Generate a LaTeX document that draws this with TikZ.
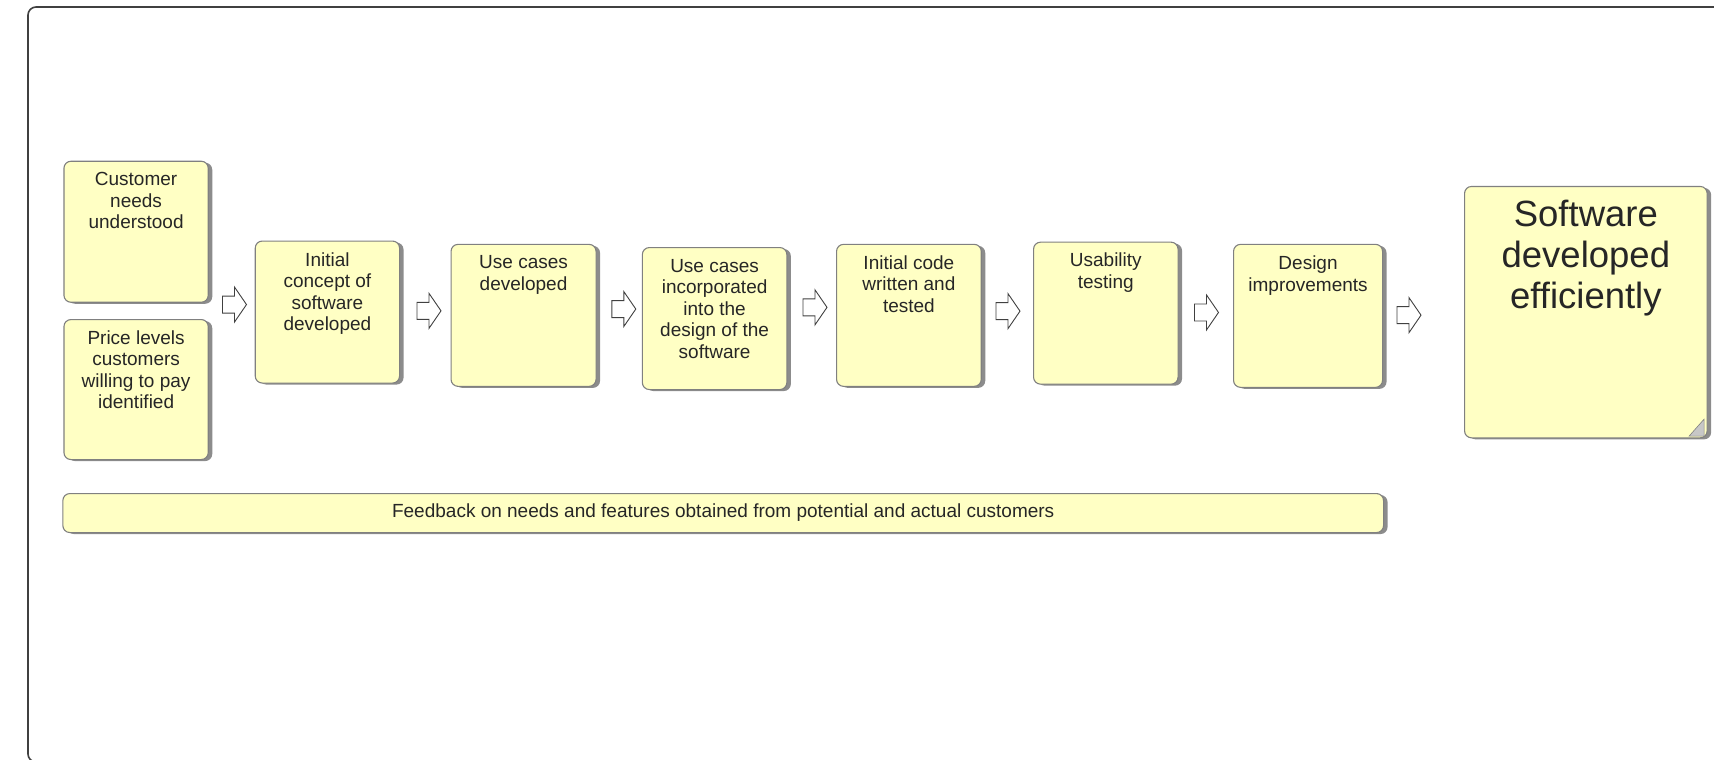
\documentclass[tikz,border=0pt]{standalone}
\usepackage{fontspec}
\setmainfont{Liberation Sans}
\usetikzlibrary{calc,shadows}
\definecolor{sticky}{HTML}{FFFFC4}
\definecolor{stickyline}{HTML}{808080}
\definecolor{txt}{HTML}{262626}
\definecolor{shade}{HTML}{8C8C8C}
\tikzset{
  sbox/.style={draw=stickyline, line width=1.1pt, fill=sticky, rounded corners=7pt,
    inner sep=0pt, anchor=north west,
    drop shadow={shadow xshift=4pt, shadow yshift=-1.5pt, opacity=1, fill=shade}},
  stext/.style={anchor=north, inner sep=0pt, align=center, text=txt,
    font=\fontsize{19}{21.5}\selectfont},
  bigtext/.style={anchor=north, inner sep=0pt, align=center, text=txt,
    font=\fontsize{36.5}{41}\selectfont},
  blockarrowstyle/.style={draw=black!75, fill=white, line width=0.9pt, line join=miter},
  blockarrow/.pic={\draw[blockarrowstyle] (-12,-8.5) -- (0,-8.5) -- (0,-17.5) -- (12,0)
     -- (0,17.5) -- (0,8.5) -- (-12,8.5) -- cycle;},
  foldstyle/.style={fill=black!22, draw=black!50, line width=0.6pt}
}
\begin{document}
\begin{tikzpicture}[x=1pt,y=-1pt]
\useasboundingbox (0,0) rectangle (1714,760);
\draw[line width=1.6pt, draw=black!75, rounded corners=8pt] (28,7) rectangle (1745,762);

% boxes
\node[sbox, minimum width=144.3pt, minimum height=141pt] (cust) at (63.4,160.7) {};
\node[sbox, minimum width=144.3pt, minimum height=140pt] (price) at (63.4,319) {};
\node[sbox, minimum width=144.3pt, minimum height=142pt] (concept) at (254.7,240.5) {};
\node[sbox, minimum width=145pt, minimum height=142pt] (usecases) at (450.5,243.8) {};
\node[sbox, minimum width=144.5pt, minimum height=142pt] (incorp) at (641.8,247) {};
\node[sbox, minimum width=144.7pt, minimum height=142pt] (code) at (836,243.8) {};
\node[sbox, minimum width=144.5pt, minimum height=142pt] (usab) at (1033,241.6) {};
\node[sbox, minimum width=149pt, minimum height=143pt] (design) at (1233,243.8) {};
\node[sbox, minimum width=242.6pt, minimum height=251.4pt] (final) at (1464,185.9) {};
\node[sbox, minimum width=1320.7pt, minimum height=39pt, text=txt,
      font=\fontsize{19}{21.5}\selectfont] (feedback) at (62.3,493)
  {Feedback on needs and features obtained from potential and actual customers};

% texts
\node[stext] (cust-t) at ($(cust.north)+(0,11.5)$) {Customer\\needs\\understood};
\node[stext] (price-t) at ($(price.north)+(0,11.5)$) {Price levels\\customers\\willing to pay\\identified};
\node[stext] (concept-t) at ($(concept.north)+(0,12)$) {Initial\\concept of\\software\\developed};
\node[stext] (usecases-t) at ($(usecases.north)+(0,11.5)$) {Use cases\\developed};
\node[stext] (incorp-t) at ($(incorp.north)+(0,12)$) {Use cases\\incorporated\\into the\\design of the\\software};
\node[stext] (code-t) at ($(code.north)+(0,11.5)$) {Initial code\\written and\\tested};
\node[stext] (usab-t) at ($(usab.north)+(0,11)$) {Usability\\testing};
\node[stext] (design-t) at ($(design.north)+(0,12)$) {Design\\improvements};
\node[bigtext] (final-t) at ($(final.north)+(0,14)$) {Software\\developed\\efficiently};

% page fold
\draw[foldstyle] ($(final.south east)+(-3.6,-19.3)$) -- ($(final.south east)+(-3.6,-2.3)$)
  -- ($(final.south east)+(-18.6,-2.3)$) -- cycle;

% block arrows
\pic at ($(concept.west)+(-20.2,-7.5)$) {blockarrow};
\pic at ($(usecases.west)+(-21.5,-4.5)$) {blockarrow};
\pic at ($(incorp.west)+(-18,-9.5)$) {blockarrow};
\pic at ($(code.west)+(-21,-8)$) {blockarrow};
\pic at ($(usab.west)+(-25,-2)$) {blockarrow};
\pic at ($(design.west)+(-26.5,-3.4)$) {blockarrow};
\pic at ($(final.west)+(-55,3)$) {blockarrow};
\end{tikzpicture}
\end{document}
